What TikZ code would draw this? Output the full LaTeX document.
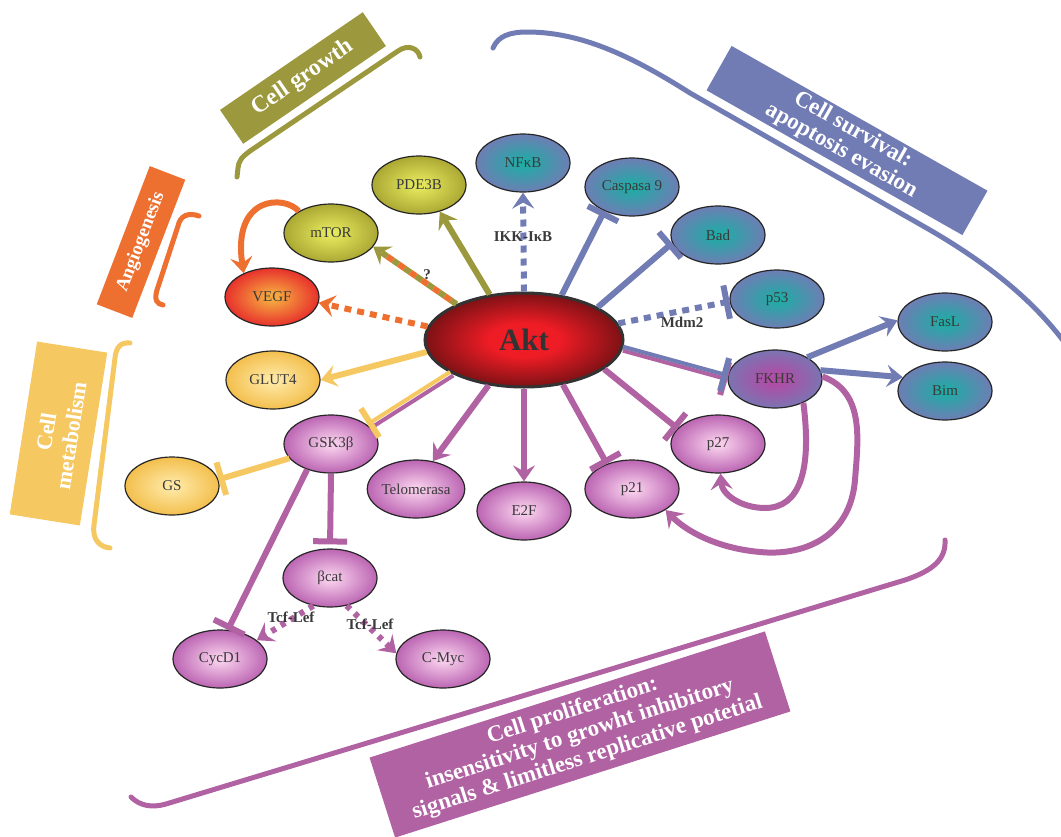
\documentclass[tikz,border=0pt]{standalone}
\usepackage{fontspec}
\setmainfont{Liberation Serif}
\usetikzlibrary{shapes.geometric,arrows.meta}
\definecolor{olv}{HTML}{9C983E}
\definecolor{org}{HTML}{EE7031}
\definecolor{ylw}{HTML}{F6C862}
\definecolor{blu}{HTML}{717CB4}
\definecolor{pur}{HTML}{B062A2}
\definecolor{txt}{HTML}{3A3A3A}
\definecolor{olvin}{HTML}{E4E65C}
\definecolor{olvout}{HTML}{9E9A2A}
\definecolor{bluin}{HTML}{22AAA6}
\definecolor{bluout}{HTML}{717CB4}
\definecolor{purin}{HTML}{F6CBEA}
\definecolor{purout}{HTML}{AE4EA6}
\definecolor{ylwin}{HTML}{FEE7A2}
\definecolor{ylwout}{HTML}{F0B436}
\definecolor{vegin}{HTML}{F6A840}
\definecolor{vegout}{HTML}{E6262A}
\definecolor{aktin}{HTML}{EE1C25}
\definecolor{aktout}{HTML}{360B0B}
\pgfdeclareradialshading{shO}{\pgfpointorigin}{color(0bp)=(olvin); color(3bp)=(olvin); color(30bp)=(olvout); color(50bp)=(olvout)}
\pgfdeclareradialshading{shB}{\pgfpointorigin}{color(0bp)=(bluin); color(3bp)=(bluin); color(26bp)=(bluout); color(50bp)=(bluout)}
\pgfdeclareradialshading{shP}{\pgfpointorigin}{color(0bp)=(purin); color(3bp)=(purin); color(30bp)=(purout); color(50bp)=(purout)}
\pgfdeclareradialshading{shY}{\pgfpointorigin}{color(0bp)=(ylwin); color(3bp)=(ylwin); color(31bp)=(ylwout); color(50bp)=(ylwout)}
\pgfdeclareradialshading{shV}{\pgfpointorigin}{color(0bp)=(vegin); color(3bp)=(vegin); color(27bp)=(vegout); color(50bp)=(vegout)}
\pgfdeclareradialshading{shF}{\pgfpointorigin}{color(0bp)=(purout); color(5bp)=(purout); color(29bp)=(bluout); color(50bp)=(bluout)}
\pgfdeclareradialshading{shA}{\pgfpointorigin}{color(0bp)=(aktin); color(9bp)=(aktin); color(35bp)=(aktout); color(50bp)=(aktout)}
\tikzset{
  mol/.style={ellipse, draw=black!85, line width=1.2pt, minimum width=94pt, minimum height=58pt, inner sep=0pt, font=\fontsize{15}{15}\selectfont, text=txt},
  molO/.style={mol, shading=shO},
  molB/.style={mol, shading=shB},
  molP/.style={mol, shading=shP},
  molY/.style={mol, shading=shY},
  molV/.style={mol, shading=shV},
  molF/.style={mol, shading=shF},
  aktnode/.style={ellipse, draw=black!80, line width=3pt, minimum width=198pt, minimum height=94pt, inner sep=0pt, shading=shA, font=\bfseries\fontsize{31}{31}\selectfont, text=black!80},
  thk/.style={line width=6pt},
  arr/.style={-{Stealth[length=16pt,width=22pt,inset=6pt]}},
  inh/.style={-{Bar[width=34pt,line width=6pt]}},
  dsh/.style={dash pattern=on 7pt off 6pt},
  dotln/.style={dash pattern=on 5pt off 6pt},
  lbl/.style={font=\bfseries\fontsize{15}{15}\selectfont, text=txt, inner sep=1pt},
  tagbox/.style={inner sep=0pt, text=white, align=center},
  brk/.style={line width=5pt, line cap=round},
}
\begin{document}
\begin{tikzpicture}[x=1pt,y=-1pt]
\useasboundingbox (0,0) rectangle (1061,836);
\clip (0,0) rectangle (1061,836);

% category boxes
\node[tagbox, fill=olv, rotate=34.4, minimum width=173pt, minimum height=41pt, font=\bfseries\fontsize{23.5}{23.5}\selectfont] (cg) at (303,78) {Cell growth};
\node[tagbox, fill=org, rotate=69, minimum width=148pt, minimum height=38pt, font=\bfseries\fontsize{19}{19}\selectfont] (ang) at (141,242) {Angiogenesis};
\node[tagbox, fill=ylw, rotate=81, minimum width=175pt, minimum height=71pt, font=\bfseries\fontsize{22}{25}\selectfont] (met) at (58.5,433.5) {Cell\\metabolism};
\node[tagbox, fill=blu, rotate=-29.5, minimum width=294pt, minimum height=51pt, font=\bfseries\fontsize{23}{23.5}\selectfont] (surv) at (847,140.5) {Cell survival:\\apoptosis evasion};
\node[tagbox, fill=pur, rotate=17.7, minimum width=415pt, minimum height=84pt, font=\bfseries\fontsize{23}{24.5}\selectfont] (prol) at (580,734.5) {Cell proliferation:\\insensitivity to growht inhibitory\\signals \& limitless replicative potetial};

% brackets
\draw[olv, brk] (237,177) -- (238,168) .. controls (239,160) and (242,157) .. (250,151) -- (398,51) .. controls (408,44) and (418,48) .. (420,57);
\draw[org, brk] (199,216) .. controls (188,212) and (180,216) .. (178,226) -- (157,290) .. controls (154,300) and (157,304) .. (163,305);
\draw[ylw, brk] (130,343) .. controls (120,342) and (116,348) .. (115,358) -- (94,525) .. controls (92,540) and (100,547) .. (110,548);
\draw[blu, brk] (493,48) .. controls (498,36) and (510,32) .. (527,32) .. controls (580,32) and (630,55) .. (690,93) -- (930,230) .. controls (985,262) and (1035,300) .. (1070,350);
\draw[pur, brk] (131,797) .. controls (140,806) and (152,808) .. (166,804) -- (905,580) .. controls (935,570) and (946,558) .. (945,540);

% molecules
\node[aktnode] (akt) at (524,340) {Akt};
\node[molO] (pde) at (419,185) {PDE3B};
\node[molO] (mtor) at (331,233) {mTOR};
\node[molV] (vegf) at (272,297) {VEGF};
\node[molB] (nfkb) at (523,163) {NFκB};
\node[molB] (casp) at (632,187) {Caspasa 9};
\node[molB] (bad) at (718,235) {Bad};
\node[molB] (p53) at (777,299) {p53};
\node[molB] (fasl) at (945,322) {FasL};
\node[molB] (bim) at (945,391) {Bim};
\node[molF] (fkhr) at (775,379) {FKHR};
\node[molP] (p27) at (718,444) {p27};
\node[molP] (p21) at (632,489) {p21};
\node[molP] (e2f) at (524,511) {E2F};
\node[molP] (telo) at (416,489) {Telomerasa};
\node[molP] (gsk) at (331,444) {GSK3β};
\node[molY] (glut) at (273,380) {GLUT4};
\node[molY] (gs) at (172,486) {GS};
\node[molP] (bcat) at (330,578) {βcat};
\node[molP] (cycd) at (220,659) {CycD1};
\node[molP] (cmyc) at (443,659) {C-Myc};

% growth / angiogenesis
\draw[olv, thk, arr] (akt.127) -- (pde.308);
\draw[olv, thk, dash pattern=on 7pt off 7pt, arr] (akt.152) -- (mtor.342);
\draw[org, thk, dash pattern=on 7pt off 7pt, dash phase=7pt, shorten >=15pt] (akt.152) -- (mtor.342);
\node[lbl] (q) at (427,275) {?};
\draw[org, thk, dsh, arr] (akt.172) -- (vegf.353);
\draw[org, thk, arr] (mtor.146) .. controls (285,195) and (232,195) .. (vegf.140);

% metabolism
\draw[ylw, thk, arr] (akt.187) -- (glut.0);
\draw[pur, line width=4pt, transform canvas={xshift=1.6pt,yshift=-1.8pt}, shorten >=3pt] (akt.205) -- (gsk.25);
\draw[ylw, line width=4pt, transform canvas={xshift=-1.6pt,yshift=1.8pt}, inh] (akt.205) -- (gsk.25);
\draw[ylw, thk, inh] (gsk.199) -- (gs.8);

% proliferation
\draw[pur, thk, arr] (akt.232) -- (telo.59);
\draw[pur, thk, arr] (akt.270) -- (e2f.90);
\draw[pur, thk, inh] (akt.311) -- (p21.135);
\draw[pur, thk, inh] (akt.340) -- (p27.159);
\draw[pur, thk, inh, shorten >=4pt] (gsk.270) -- (bcat.90);
\draw[pur, thk, inh] (gsk.227) -- (cycd.75);
\draw[pur, thk, dotln, arr] (bcat.239) -- (cycd.27);
\draw[pur, thk, dotln, arr] (bcat.301) -- (cmyc.173);
\node[lbl] (tl1) at (291,617) {Tcf-Lef};
\node[lbl] (tl2) at (370,624) {Tcf-Lef};
\draw[pur, thk, arr] (fkhr.320) .. controls (812,470) and (800,508) .. (765,508) .. controls (742,508) and (722,495) .. (p27.275);
\draw[pur, thk, arr] (fkhr.3) .. controls (865,392) and (858,440) .. (855,480) .. controls (850,540) and (800,556) .. (760,552) .. controls (715,548) and (685,530) .. (p21.328);

% survival
\draw[pur, line width=4pt, transform canvas={yshift=-2pt}, inh] (akt.355) -- (fkhr.178);
\draw[blu, line width=4pt, transform canvas={yshift=2pt}, inh] (akt.355) -- (fkhr.178);
\draw[blu, thk, dsh, arr] (akt.90) -- (nfkb.270);
\node[lbl] (ikk) at (523,237) {IKK-IκB};
\draw[blu, thk, inh] (akt.50) -- (casp.221);
\draw[blu, thk, inh] (akt.24) -- (bad.190);
\draw[blu, thk, dsh, inh] (akt.10) -- (p53.183);
\node[lbl] (mdm) at (682,322) {Mdm2};
\draw[blu, thk, arr] (fkhr.34) -- (fasl.178);
\draw[blu, thk, arr] (fkhr.11) -- (bim.162);
\end{tikzpicture}
\end{document}
